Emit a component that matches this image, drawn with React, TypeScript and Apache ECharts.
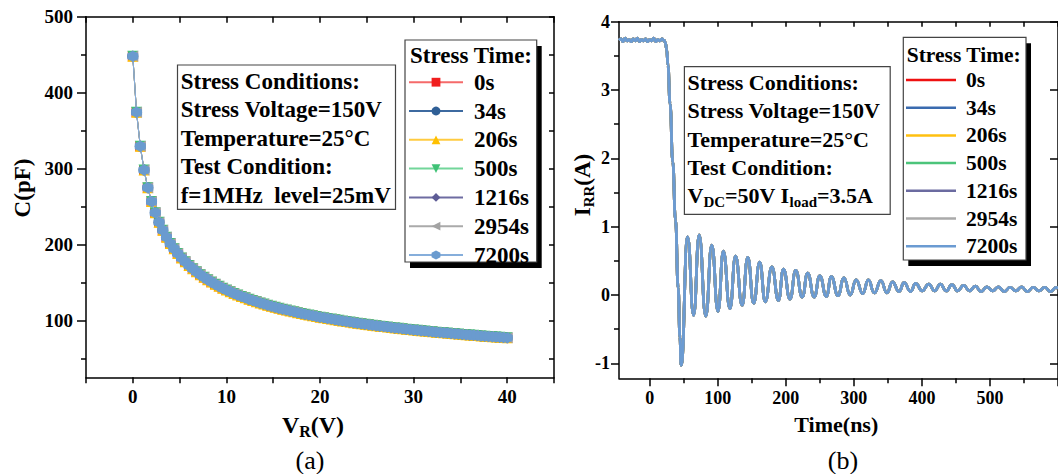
import React, { useEffect, useRef } from 'react';
import * as echarts from 'echarts';

const SERIF = "'Times New Roman', 'Liberation Serif', serif";

// ---------- shared legend names ----------
const stressTimes = ['0s', '34s', '206s', '500s', '1216s', '2954s', '7200s'];

// ---------- panel (a): C-V ----------
const cvColors = ['#F01E1E', '#2F5F96', '#FFC000', '#3FC276', '#5E5C96', '#A3A3A3', '#6A9BCF'];
const cvLineColors = ['#F56A6A', '#3D6AA0', '#FFCB40', '#72D69A', '#6E6CA2', '#AAAAAA', '#86AEDB'];
const HEX = 'path://M0,-10L8.66,-5L8.66,5L0,10L-8.66,5L-8.66,-5Z';
const cvSymbols = ['rect', 'circle', 'triangle', 'triangle', 'diamond', 'triangle', HEX];
const cvSymbolRotate = [0, 0, 0, 180, 0, 90, 0];
const cvSymbolSize = [10, 11, 11, 11, 11, 11, 11];

const voltageV = [0, 0.4, 0.8, 1.2, 1.6, 2, 2.4, 2.8, 3.2, 3.6, 4, 4.4, 4.8, 5.2, 5.6, 6, 6.4, 6.8, 7.2, 7.6, 8, 8.4, 8.8, 9.2, 9.6, 10, 10.4, 10.8, 11.2, 11.6, 12, 12.4, 12.8, 13.2, 13.6, 14, 14.4, 14.8, 15.2, 15.6, 16, 16.4, 16.8, 17.2, 17.6, 18, 18.4, 18.8, 19.2, 19.6, 20, 20.4, 20.8, 21.2, 21.6, 22, 22.4, 22.8, 23.2, 23.6, 24, 24.4, 24.8, 25.2, 25.6, 26, 26.4, 26.8, 27.2, 27.6, 28, 28.4, 28.8, 29.2, 29.6, 30, 30.4, 30.8, 31.2, 31.6, 32, 32.4, 32.8, 33.2, 33.6, 34, 34.4, 34.8, 35.2, 35.6, 36, 36.4, 36.8, 37.2, 37.6, 38, 38.4, 38.8, 39.2, 39.6, 40];
const capacitancePF = [448, 374.3, 329.3, 298.1, 274.8, 256.5, 241.6, 229.2, 218.6, 209.5, 201.4, 194.3, 188.0, 182.3, 177.1, 172.3, 167.9, 163.9, 160.1, 156.7, 153.4, 150.4, 147.5, 144.9, 142.3, 140.0, 137.7, 135.5, 133.5, 131.5, 129.7, 127.9, 126.2, 124.6, 123.0, 121.5, 120.0, 118.6, 117.3, 116.0, 114.7, 113.5, 112.3, 111.2, 110.1, 109.1, 108.1, 107.1, 106.1, 105.2, 104.2, 103.4, 102.5, 101.7, 100.8, 100.0, 99.2, 98.5, 97.7, 97.0, 96.3, 95.6, 95.0, 94.3, 93.7, 93.0, 92.4, 91.8, 91.2, 90.6, 90.1, 89.5, 88.9, 88.4, 87.9, 87.4, 86.9, 86.4, 85.9, 85.4, 84.9, 84.5, 84.0, 83.6, 83.2, 82.7, 82.3, 81.9, 81.5, 81.0, 80.7, 80.3, 79.9, 79.5, 79.1, 78.8, 78.4, 78.1, 77.7, 77.3, 77.0];

const cvXLabels = [0, 10, 20, 30, 40];
const cvXTicks = [-5, 0, 5, 10, 15, 20, 25, 30, 35, 40, 45];
const cvYLabels = [100, 200, 300, 400, 500];
const cvYMinor = [50, 150, 250, 350, 450];
const cvYRight = [50, 100, 150, 200, 250, 300, 350, 400, 450, 500];

// ---------- panel (b): reverse recovery ----------
const trrColors = ['#EE1111', '#3A6BAF', '#FFC010', '#4CC47A', '#6B6BA0', '#AAAAAA', '#6B9BD2'];
const timeNs = [-45, -42, -39, -36, -33, -30, -27, -24, -21, -18, -15, -12, -9, -6, -3, 0, 3, 6, 9, 12, 15, 18, 21, 23, 25, 27, 30, 34, 38, 42, 44.5, 46.3, 55.8, 64.6, 72.8, 82.5, 91.3, 100.5, 108.3, 118.0, 126.2, 135.9, 144.2, 152.9, 161.7, 169.9, 179.6, 189.3, 196.6, 206.3, 214.6, 224.3, 232.1, 241.8, 250.0, 259.7, 267.0, 276.7, 285.5, 294.7, 303.4, 313.1, 321.4, 330.1, 339.8, 348.6, 356.8, 366.5, 373.8, 383.5, 390.8, 400.5, 410.2, 418.7, 427.2, 435.7, 444.2, 452.7, 461.2, 470, 478.5, 487, 495.5, 504, 512.5, 521, 529.5, 538, 546.5, 555, 563.5, 572, 580.5, 589, 597.5, 600];
const currentA = [3.73, 3.75, 3.71, 3.76, 3.72, 3.74, 3.71, 3.75, 3.72, 3.76, 3.71, 3.74, 3.72, 3.75, 3.71, 3.74, 3.72, 3.76, 3.71, 3.74, 3.72, 3.75, 3.73, 3.70, 3.60, 3.36, 2.80, 1.95, 1.10, 0.10, -0.62, -1.03, 0.85, -0.30, 0.88, -0.31, 0.73, -0.24, 0.64, -0.20, 0.57, -0.15, 0.55, -0.12, 0.48, -0.10, 0.41, -0.08, 0.38, -0.06, 0.36, -0.03, 0.32, -0.03, 0.28, -0.02, 0.27, -0.01, 0.25, 0.00, 0.22, 0.02, 0.22, 0.03, 0.21, 0.03, 0.19, 0.05, 0.18, 0.05, 0.17, 0.06, 0.16, 0.06, 0.16, 0.06, 0.15, 0.06, 0.14, 0.06, 0.13, 0.05, 0.12, 0.06, 0.12, 0.05, 0.11, 0.06, 0.12, 0.05, 0.11, 0.06, 0.11, 0.05, 0.11, 0.09];

const trrXLabels = [0, 100, 200, 300, 400, 500];
const trrXMajor = [0, 100, 200, 300, 400, 500, 600];
const trrXMinor = [50, 150, 250, 350, 450, 550];
const trrXTop = [0, 50, 100, 150, 200, 250, 300, 350, 400, 450, 500, 550, 600];
const trrYLabels = [-1, 0, 1, 2, 3, 4];
const trrYMinor = [-0.5, 0.5, 1.5, 2.5, 3.5];

const annotA = ['Stress Conditions:', 'Stress Voltage=150V', 'Temperature=25°C', 'Test Condition:', 'f=1MHz  level=25mV'];
const annotB = ['Stress Conditions:', 'Stress Voltage=150V', 'Temperature=25°C', 'Test Condition:'];

function buildOption() {
  const axLine = { show: true, onZero: false, lineStyle: { color: '#000', width: 1.5 } };
  const tickStyle = { color: '#000', width: 1.5 };
  const lbl = (vals: number[], size: number, margin: number) => ({
    show: true, customValues: vals, fontSize: size, fontWeight: 'bold', fontFamily: SERIF, color: '#000', margin,
  });
  const noSplit = { show: false };

  const xAxis: any[] = [
    { gridIndex: 0, type: 'value', min: -5, max: 45, position: 'bottom', axisLine: axLine,
      axisTick: { show: true, customValues: cvXTicks, length: 6, lineStyle: tickStyle },
      axisLabel: lbl(cvXLabels, 19, 10), splitLine: noSplit },
    { gridIndex: 0, type: 'value', min: -5, max: 45, position: 'top', axisLine: axLine,
      axisTick: { show: true, inside: true, customValues: cvXTicks, length: 6, lineStyle: tickStyle },
      axisLabel: { show: false }, splitLine: noSplit },
    { gridIndex: 1, type: 'value', min: -45, max: 600, position: 'bottom', axisLine: axLine,
      axisTick: { show: true, customValues: trrXMajor, length: 8, lineStyle: tickStyle },
      axisLabel: lbl(trrXLabels, 18, 11), splitLine: noSplit },
    { gridIndex: 1, type: 'value', min: -45, max: 600, position: 'bottom', axisLine: { show: false, onZero: false },
      axisTick: { show: true, customValues: trrXMinor, length: 5, lineStyle: tickStyle },
      axisLabel: { show: false }, splitLine: noSplit },
    { gridIndex: 1, type: 'value', min: -45, max: 600, position: 'top', axisLine: axLine,
      axisTick: { show: true, inside: true, customValues: trrXTop, length: 5, lineStyle: tickStyle },
      axisLabel: { show: false }, splitLine: noSplit },
  ];

  const yAxis: any[] = [
    { gridIndex: 0, type: 'value', min: 25, max: 500, position: 'left', axisLine: axLine,
      axisTick: { show: true, customValues: cvYLabels, length: 9, lineStyle: tickStyle },
      axisLabel: lbl(cvYLabels, 19, 13), splitLine: noSplit },
    { gridIndex: 0, type: 'value', min: 25, max: 500, position: 'left', axisLine: { show: false, onZero: false },
      axisTick: { show: true, customValues: cvYMinor, length: 5, lineStyle: tickStyle },
      axisLabel: { show: false }, splitLine: noSplit },
    { gridIndex: 0, type: 'value', min: 25, max: 500, position: 'right', axisLine: axLine,
      axisTick: { show: true, inside: true, customValues: cvYRight, length: 5, lineStyle: tickStyle },
      axisLabel: { show: false }, splitLine: noSplit },
    { gridIndex: 1, type: 'value', min: -1.22, max: 4, position: 'left', axisLine: axLine,
      axisTick: { show: true, customValues: trrYLabels, length: 8, lineStyle: tickStyle },
      axisLabel: lbl(trrYLabels, 18, 9), splitLine: noSplit },
    { gridIndex: 1, type: 'value', min: -1.22, max: 4, position: 'left', axisLine: { show: false, onZero: false },
      axisTick: { show: true, customValues: trrYMinor, length: 5, lineStyle: tickStyle },
      axisLabel: { show: false }, splitLine: noSplit },
    { gridIndex: 1, type: 'value', min: -1.22, max: 4, position: 'right', axisLine: axLine,
      axisTick: { show: true, inside: true, customValues: trrYLabels, length: 8, lineStyle: tickStyle },
      axisLabel: { show: false }, splitLine: noSplit },
  ];

  const cvData = voltageV.map((v, i) => [v, capacitancePF[i]]);
  const trrData = timeNs.map((t, i) => [t, currentA[i]]);

  const series: any[] = [];
  stressTimes.forEach((name, i) => {
    series.push({
      name, type: 'line', xAxisIndex: 0, yAxisIndex: 0, data: cvData,
      symbol: cvSymbols[i], symbolRotate: cvSymbolRotate[i], symbolSize: cvSymbolSize[i], showSymbol: true,
      itemStyle: { color: cvColors[i] }, lineStyle: { color: cvLineColors[i], width: 1 },
      z: 2 + i * 0.01,
    });
  });
  stressTimes.forEach((name, i) => {
    series.push({
      name, type: 'line', xAxisIndex: 2, yAxisIndex: 3, data: trrData,
      symbol: 'none', smooth: 0.5, smoothMonotone: 'x',
      itemStyle: { color: trrColors[i] }, lineStyle: { color: trrColors[i], width: 2.8 },
      z: 2 + i * 0.01,
    });
  });

  const txt = (x: number, y: number, text: string, size: number, extra: any = {}) => ({
    type: 'text', x, y, z: 10,
    style: { text, fontSize: size, fontWeight: 'bold', fontFamily: SERIF, fill: '#000', align: 'left', verticalAlign: 'middle', ...extra },
  });
  const box = (x: number, y: number, w: number, h: number, shadow: boolean) => {
    const els: any[] = [];
    if (shadow) els.push({ type: 'rect', z: 8, shape: { x: x + 5, y: y + 6, width: w, height: h }, style: { fill: '#000' } });
    els.push({ type: 'rect', z: 9, shape: { x, y, width: w, height: h }, style: { fill: '#fff', stroke: '#444', lineWidth: 1.2 } });
    return els;
  };
  const richMain = (size: number) => ({ fontSize: size, fontWeight: 'bold', fontFamily: SERIF, fill: '#000', lineHeight: size + 5 });
  const richSub = (size: number) => ({ fontSize: size, fontWeight: 'bold', fontFamily: SERIF, fill: '#000', lineHeight: 12, verticalAlign: 'bottom' });

  const aLines = [81, 109.5, 138, 166.5, 195];
  const bLines = [82.5, 110.5, 139, 167.5, 195.5];

  const graphicEls: any[] = [
    ...box(177.5, 65, 218, 144.3, false),
    ...annotA.map((t, i) => txt(180.7, aLines[i], t, 23)),
    ...box(405, 40, 131.7, 222, true),
    txt(410, 55, 'Stress Time:', 23),
    ...box(684.4, 66.7, 205.8, 147.6, false),
    ...annotB.map((t, i) => txt(687.5, bLines[i], t, 22)),
    {
      type: 'text', x: 687.5, y: bLines[4], z: 10,
      style: {
        text: '{n|V}{s|DC}{n|=50V I}{s|load}{n|=3.5A}', align: 'left', verticalAlign: 'middle',
        rich: { n: richMain(22), s: richSub(15) },
      },
    },
    ...box(903.3, 37.3, 122.7, 222.7, true),
    txt(906.7, 55, 'Stress Time:', 21.5),
    {
      type: 'text', x: 22, y: 188, rotation: Math.PI / 2, z: 10,
      style: { text: 'C(pF)', fontSize: 23, fontWeight: 'bold', fontFamily: SERIF, fill: '#000', align: 'center', verticalAlign: 'middle' },
    },
    {
      type: 'text', x: 313, y: 425, z: 10,
      style: { text: '{n|V}{s|R}{n|(V)}', align: 'center', verticalAlign: 'middle', rich: { n: richMain(24), s: richSub(16) } },
    },
    {
      type: 'text', x: 582, y: 185, rotation: Math.PI / 2, z: 10,
      style: { text: '{n|I}{s|RR}{n|(A)}', align: 'center', verticalAlign: 'middle', rich: { n: richMain(23), s: richSub(15) } },
    },
    txt(836.3, 424, 'Time(ns)', 22, { align: 'center' }),
    txt(310, 460, '(a)', 26, { align: 'center', fontWeight: 'normal' }),
    txt(843, 460, '(b)', 26, { align: 'center', fontWeight: 'normal' }),
  ];

  return {
    animation: false,
    backgroundColor: '#fff',
    grid: [
      { left: 86, top: 16.7, width: 468, height: 360.6, containLabel: false },
      { left: 619, top: 21.8, width: 443, height: 356.5, containLabel: false },
    ],
    xAxis,
    yAxis,
    legend: [
      {
        orient: 'vertical', left: 408, top: 70.7, padding: 0, itemWidth: 54, itemHeight: 11, itemGap: 5.8,
        selectedMode: false, z: 12,
        textStyle: { fontSize: 23, fontWeight: 'bold', fontFamily: SERIF, color: '#000', lineHeight: 22, padding: [0, 0, 0, 6] },
        data: stressTimes.slice(),
      },
      {
        orient: 'vertical', left: 906, top: 69, padding: 0, itemWidth: 50, itemHeight: 2.5, itemGap: 5.7,
        selectedMode: false, z: 12,
        textStyle: { fontSize: 21.5, fontWeight: 'bold', fontFamily: SERIF, color: '#000', lineHeight: 22, padding: [0, 0, 0, 5] },
        data: stressTimes.map((name, i) => ({ name, icon: 'rect', itemStyle: { color: trrColors[i], borderWidth: 0 } })),
      },
    ],
    series,
    graphic: { elements: graphicEls },
  };
}

export default function App() {
  const ref = useRef<HTMLDivElement>(null);
  useEffect(() => {
    document.body.style.margin = '0';
    const chart = echarts.init(ref.current as HTMLDivElement, undefined, { renderer: 'svg' });
    chart.setOption(buildOption() as any);
    return () => chart.dispose();
  }, []);
  return <div ref={ref} style={{ width: 1058, height: 474, background: '#fff', overflow: 'hidden' }} />;
}
